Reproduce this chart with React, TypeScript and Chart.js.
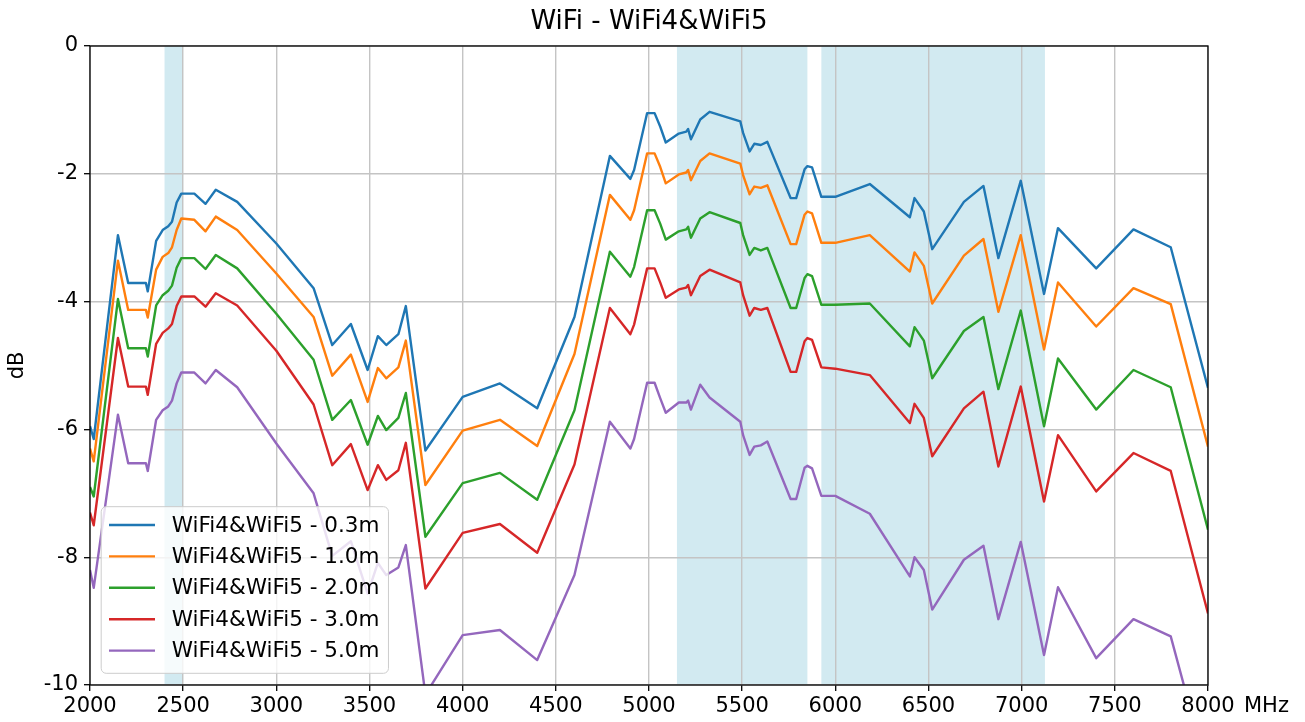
import React, { useEffect, useRef } from "react";
import { Chart, registerables } from "chart.js";

Chart.register(...registerables);

// ---------- data ----------
const TITLE = "WiFi - WiFi4&WiFi5";
const Y_LABEL = "dB";
const X_UNIT = "MHz";

const FREQ_MHZ = [
  2000, 2020, 2150, 2205, 2300, 2310, 2355, 2390, 2420, 2440,
  2465, 2490, 2560, 2620, 2675, 2790, 3000, 3200, 3300, 3400,
  3490, 3545, 3590, 3655, 3695, 3800, 4000, 4200, 4400, 4600,
  4790, 4900, 4920, 4990, 5030, 5060, 5090, 5160, 5200, 5210,
  5225, 5275, 5325, 5490, 5505, 5540, 5565, 5600, 5635, 5760,
  5790, 5835, 5850, 5875, 5925, 6000, 6185, 6400, 6425, 6475,
  6520, 6690, 6795, 6875, 6995, 7120, 7195, 7400, 7600, 7800,
  8000,
];

const DB_03M = [
  -5.95, -6.15, -2.96, -3.71, -3.71, -3.84, -3.05, -2.88, -2.82, -2.75,
  -2.45, -2.31, -2.31, -2.47, -2.25, -2.44, -3.09, -3.79, -4.68, -4.35,
  -5.07, -4.54, -4.68, -4.51, -4.07, -6.33, -5.49, -5.28, -5.67, -4.24,
  -1.72, -2.08, -1.94, -1.05, -1.05, -1.26, -1.51, -1.37, -1.34, -1.30,
  -1.46, -1.15, -1.03, -1.18, -1.36, -1.65, -1.53, -1.55, -1.50, -2.38,
  -2.38, -1.93, -1.88, -1.90, -2.36, -2.36, -2.16, -2.68, -2.38, -2.59,
  -3.18, -2.44, -2.19, -3.32, -2.11, -3.88, -2.85, -3.48, -2.87, -3.15,
  -5.35,
];

const DB_10M = [
  -6.30, -6.50, -3.36, -4.13, -4.13, -4.25, -3.50, -3.30, -3.24, -3.15,
  -2.88, -2.70, -2.72, -2.90, -2.67, -2.88, -3.56, -4.24, -5.16, -4.83,
  -5.57, -5.04, -5.20, -5.03, -4.61, -6.87, -6.02, -5.85, -6.26, -4.82,
  -2.33, -2.72, -2.57, -1.68, -1.68, -1.89, -2.15, -2.01, -1.98, -1.94,
  -2.10, -1.80, -1.68, -1.84, -2.02, -2.32, -2.20, -2.22, -2.18, -3.10,
  -3.10, -2.64, -2.59, -2.62, -3.08, -3.08, -2.96, -3.53, -3.23, -3.44,
  -4.03, -3.28, -3.02, -4.16, -2.96, -4.75, -3.70, -4.39, -3.79, -4.04,
  -6.27,
];

const DB_20M = [
  -6.90, -7.05, -3.96, -4.73, -4.73, -4.86, -4.06, -3.90, -3.83, -3.75,
  -3.47, -3.32, -3.32, -3.49, -3.27, -3.48, -4.19, -4.91, -5.85, -5.54,
  -6.24, -5.79, -6.01, -5.82, -5.43, -7.68, -6.84, -6.68, -7.10, -5.70,
  -3.22, -3.61, -3.46, -2.57, -2.57, -2.78, -3.03, -2.90, -2.87, -2.83,
  -3.00, -2.70, -2.60, -2.77, -2.96, -3.27, -3.16, -3.20, -3.16, -4.10,
  -4.10, -3.63, -3.57, -3.60, -4.05, -4.05, -4.03, -4.70, -4.40, -4.61,
  -5.20, -4.46, -4.24, -5.37, -4.14, -5.95, -4.89, -5.69, -5.07, -5.34,
  -7.57,
];

const DB_30M = [
  -7.30, -7.50, -4.57, -5.33, -5.33, -5.46, -4.66, -4.49, -4.42, -4.35,
  -4.07, -3.92, -3.92, -4.08, -3.87, -4.06, -4.77, -5.61, -6.56, -6.23,
  -6.95, -6.56, -6.79, -6.64, -6.21, -8.49, -7.62, -7.48, -7.93, -6.55,
  -4.10, -4.51, -4.36, -3.48, -3.48, -3.70, -3.94, -3.81, -3.78, -3.74,
  -3.90, -3.60, -3.50, -3.70, -3.90, -4.22, -4.10, -4.13, -4.10, -5.10,
  -5.10, -4.62, -4.57, -4.60, -5.03, -5.05, -5.15, -5.90, -5.60, -5.82,
  -6.42, -5.67, -5.41, -6.58, -5.33, -7.13, -6.09, -6.97, -6.37, -6.65,
  -8.88,
];

const DB_50M = [
  -8.20, -8.48, -5.77, -6.53, -6.53, -6.65, -5.85, -5.70, -5.64, -5.55,
  -5.28, -5.11, -5.11, -5.28, -5.07, -5.34, -6.22, -7.00, -7.98, -7.75,
  -8.57, -8.09, -8.28, -8.16, -7.81, -10.15, -9.22, -9.14, -9.61, -8.28,
  -5.88, -6.30, -6.15, -5.27, -5.27, -5.51, -5.74, -5.58, -5.58, -5.55,
  -5.69, -5.30, -5.50, -5.88, -6.09, -6.40, -6.27, -6.25, -6.19, -7.09,
  -7.09, -6.60, -6.57, -6.61, -7.04, -7.04, -7.32, -8.30, -8.00, -8.20,
  -8.82, -8.04, -7.82, -8.97, -7.76, -9.53, -8.47, -9.58, -8.97, -9.24,
  -11.40,
];

const SERIES_LABELS = [
  "WiFi4&WiFi5 - 0.3m",
  "WiFi4&WiFi5 - 1.0m",
  "WiFi4&WiFi5 - 2.0m",
  "WiFi4&WiFi5 - 3.0m",
  "WiFi4&WiFi5 - 5.0m",
];
const SERIES_VALUES = [DB_03M, DB_10M, DB_20M, DB_30M, DB_50M];
const SERIES_COLORS = ["#1f77b4", "#ff7f0e", "#2ca02c", "#d62728", "#9467bd"];

const X_TICKS = [2000, 2500, 3000, 3500, 4000, 4500, 5000, 5500, 6000, 6500, 7000, 7500, 8000];
const Y_TICKS = [-10, -8, -6, -4, -2, 0];

// WiFi bands (MHz): 2.4 GHz, 5 GHz, 6 GHz
const BAND_STARTS = [2400, 5150, 5925];
const BAND_ENDS = [2500, 5850, 7125];

// ---------- styling ----------
const FONT = "'DejaVu Sans', 'Liberation Sans', sans-serif";
const TICK_SIZE = 21;
const LEGEND_SIZE = 21.5;
const TITLE_SIZE = 26;

const bandsPlugin = {
  id: "bands",
  beforeDraw(chart: any) {
    const { ctx, chartArea, scales } = chart;
    const xs = scales.x;
    ctx.save();
    ctx.fillStyle = "rgba(173,216,230,0.55)";
    BAND_STARTS.forEach((s, i) => {
      const x1 = xs.getPixelForValue(s);
      const x2 = xs.getPixelForValue(BAND_ENDS[i]);
      ctx.fillRect(x1, chartArea.top, x2 - x1, chartArea.bottom - chartArea.top);
    });
    ctx.restore();
  },
};

const framePlugin = {
  id: "frame",
  afterDatasetsDraw(chart: any) {
    const { ctx, chartArea } = chart;
    ctx.save();
    ctx.strokeStyle = "#000";
    ctx.lineWidth = 1.3;
    ctx.strokeRect(
      chartArea.left,
      chartArea.top,
      chartArea.right - chartArea.left,
      chartArea.bottom - chartArea.top
    );
    ctx.restore();
  },
};

const legendBoxPlugin = {
  id: "legendBox",
  afterDraw(chart: any) {
    const { ctx, chartArea } = chart;
    const datasets = chart.data.datasets;
    ctx.save();
    ctx.font = `${LEGEND_SIZE}px ${FONT}`;
    let maxW = 0;
    datasets.forEach((d: any) => {
      maxW = Math.max(maxW, ctx.measureText(d.label).width);
    });
    const rowH = 31.4;
    const boxH = 166.6;
    const x0 = chartArea.left + 11.2;
    const y0 = chartArea.bottom - 11.7 - boxH;
    const boxW = 70.5 + maxW + 9;
    const r = 5;
    ctx.beginPath();
    ctx.moveTo(x0 + r, y0);
    ctx.lineTo(x0 + boxW - r, y0);
    ctx.arcTo(x0 + boxW, y0, x0 + boxW, y0 + r, r);
    ctx.lineTo(x0 + boxW, y0 + boxH - r);
    ctx.arcTo(x0 + boxW, y0 + boxH, x0 + boxW - r, y0 + boxH, r);
    ctx.lineTo(x0 + r, y0 + boxH);
    ctx.arcTo(x0, y0 + boxH, x0, y0 + boxH - r, r);
    ctx.lineTo(x0, y0 + r);
    ctx.arcTo(x0, y0, x0 + r, y0, r);
    ctx.closePath();
    ctx.fillStyle = "rgba(255,255,255,0.8)";
    ctx.fill();
    ctx.strokeStyle = "#cccccc";
    ctx.lineWidth = 1;
    ctx.stroke();
    ctx.textBaseline = "middle";
    ctx.textAlign = "left";
    datasets.forEach((d: any, i: number) => {
      const cy = y0 + 18.3 + i * rowH;
      ctx.beginPath();
      ctx.strokeStyle = d.borderColor;
      ctx.lineWidth = 2.4;
      ctx.moveTo(x0 + 7.8, cy);
      ctx.lineTo(x0 + 53.8, cy);
      ctx.stroke();
      ctx.fillStyle = "#000";
      ctx.fillText(d.label, x0 + 70.5, cy + 1);
    });
    ctx.restore();
  },
};

const textPlugin = {
  id: "texts",
  afterDraw(chart: any) {
    const { ctx, chartArea } = chart;
    ctx.save();
    ctx.fillStyle = "#000";
    ctx.textBaseline = "middle";
    // title, centred over the plot area
    ctx.font = `${TITLE_SIZE}px ${FONT}`;
    ctx.textAlign = "center";
    ctx.fillText(TITLE, (chartArea.left + chartArea.right) / 2, 22.5);
    // x unit right of the last tick label
    ctx.font = `${TICK_SIZE}px ${FONT}`;
    ctx.textAlign = "left";
    ctx.fillText(X_UNIT, chartArea.right + 36, chartArea.bottom + 21.5);
    ctx.restore();
  },
};

export default function App() {
  const ref = useRef<HTMLCanvasElement>(null);

  useEffect(() => {
    document.body.style.margin = "0";
    const canvas = ref.current;
    if (!canvas) return;

    const datasets = SERIES_VALUES.map((vals, i) => ({
      label: SERIES_LABELS[i],
      data: FREQ_MHZ.map((f, j) => ({ x: f, y: vals[j] })),
      borderColor: SERIES_COLORS[i],
      backgroundColor: SERIES_COLORS[i],
      borderWidth: 2.4,
      pointRadius: 0,
      tension: 0,
      borderJoinStyle: "round" as const,
      fill: false,
    }));

    const chart = new Chart(canvas, {
      type: "line",
      data: { datasets },
      options: {
        animation: false,
        responsive: false,
        devicePixelRatio: 1,
        layout: { padding: { left: 0, top: 46, right: 97, bottom: 0 } },
        plugins: {
          legend: { display: false },
          tooltip: { enabled: false },
          title: { display: false },
        },
        scales: {
          x: {
            type: "linear",
            min: 2000,
            max: 8000,
            afterBuildTicks: (s: any) => {
              s.ticks = X_TICKS.map((v) => ({ value: v }));
            },
            afterFit: (s: any) => {
              s.height = 37;
            },
            ticks: {
              color: "#000",
              font: { family: FONT, size: TICK_SIZE },
              padding: 3,
              maxRotation: 0,
              autoSkip: false,
              callback: (v: any) => String(v),
            },
            grid: {
              color: "#c4c4c4",
              lineWidth: 1.4,
              tickLength: 6,
              tickColor: "#000",
              tickWidth: 1.3,
            },
            border: { display: false },
          },
          y: {
            type: "linear",
            min: -10,
            max: 0,
            afterBuildTicks: (s: any) => {
              s.ticks = Y_TICKS.map((v) => ({ value: v }));
            },
            afterFit: (s: any) => {
              s.width = 90;
            },
            title: {
              display: true,
              text: Y_LABEL,
              color: "#000",
              font: { family: FONT, size: TICK_SIZE },
              padding: { top: 5, bottom: 0 },
            },
            ticks: {
              color: "#000",
              font: { family: FONT, size: TICK_SIZE },
              padding: 6,
              autoSkip: false,
              callback: (v: any) => String(v),
            },
            grid: {
              color: "#c4c4c4",
              lineWidth: 1.4,
              tickLength: 6,
              tickColor: "#000",
              tickWidth: 1.3,
            },
            border: { display: false },
          },
        },
      },
      plugins: [bandsPlugin, framePlugin, legendBoxPlugin, textPlugin],
    });

    return () => chart.destroy();
  }, []);

  return (
    <div style={{ width: 1305, height: 722, background: "#fff" }}>
      <canvas ref={ref} width={1305} height={722} style={{ display: "block" }} />
    </div>
  );
}
